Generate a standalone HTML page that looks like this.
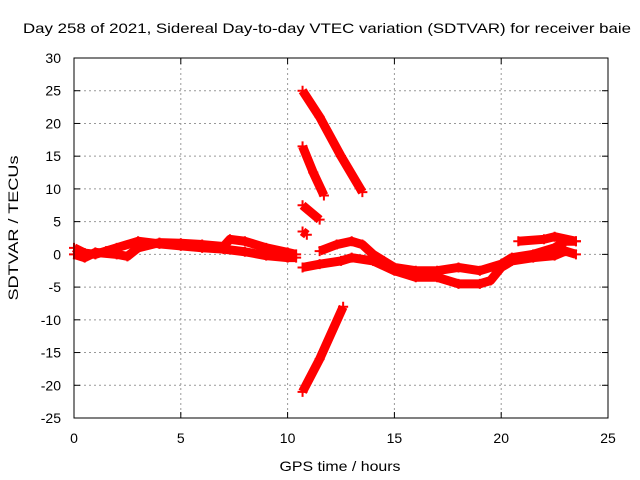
<!DOCTYPE html>
<html><head><meta charset="utf-8"><style>
body{margin:0;background:#fff;}
svg{display:block;font-family:"Liberation Sans",sans-serif;}
</style></head><body>
<svg id="chart" width="640" height="480">
<text x="327" y="33" font-size="14" text-anchor="middle" textLength="608" lengthAdjust="spacingAndGlyphs">Day 258 of 2021, Sidereal Day-to-day VTEC variation (SDTVAR) for receiver baie</text>
<text x="340" y="471" font-size="14" text-anchor="middle" textLength="121" lengthAdjust="spacingAndGlyphs">GPS time / hours</text>
<text transform="translate(18,228) rotate(-90)" font-size="14" text-anchor="middle" textLength="145" lengthAdjust="spacingAndGlyphs">SDTVAR / TECUs</text>
<g id="grid"></g><g id="ticks"></g><g id="data"></g>
<rect x="74" y="58" width="534" height="360" fill="none" stroke="#000" stroke-width="1"/>
</svg>
<script>
const xTicks=[0,5,10,15,20,25];
const yTicks=[30,25,20,15,10,5,0,-5,-10,-15,-20,-25];
const seriesA=[[0,1],[0.5,0.2],[1,0],[1.5,0.5],[2,1],[3,2],[4,1.6],[5,1.3],[6,1],[7,0.8],[8,0.4],[9,-0.2],[10,-0.5],[10.4,-0.5]];
const seriesB=[[0,0],[0.5,-0.5],[1,0.3],[2,0],[2.5,-0.3],[3,1],[4,1.8],[5,1.7],[6,1.5],[7,1.2],[7.3,2.3],[8,2],[9,1],[10,0.3],[10.4,0]];
const seriesC=[[10.7,-2],[11.5,-1.5],[12.5,-1],[13,-0.5],[14,-1],[15,-2.5],[16,-3.5],[17,-3.5],[18,-4.5],[19,-4.5],[19.5,-4],[20,-2],[20.5,-1],[21.5,-0.5],[22.5,-0.2],[23,0.5],[23.5,0]];
const seriesD=[[11.5,0.5],[12.3,1.5],[13,2],[13.5,1.5],[14,0],[14.5,-1],[15,-2],[16,-2.5],[17,-2.5],[18,-2],[19,-2.5],[20,-1.5],[20.5,-0.5],[21.5,0],[22.5,1],[23,2],[23.5,2]];
const seriesE=[[20.8,2],[22,2.3],[22.5,2.7],[23.5,2]];
const seriesF=[[10.7,25],[11.5,21],[12.5,15],[13.5,9.5]];
const seriesG=[[10.7,16.5],[11.2,12.5],[11.7,9]];
const seriesH=[[10.7,7.5],[11.5,5.3]];
const seriesI=[[10.7,3.5],[10.9,3]];
const seriesJ=[[10.7,-21],[11.5,-16],[12.6,-8]];
const allSeries=[seriesA,seriesB,seriesC,seriesD,seriesE,seriesF,seriesG,seriesH,seriesI,seriesJ];
const NS='http://www.w3.org/2000/svg';
const X=v=>74+v*534/25, Y=v=>58+(30-v)*360/55;
const grid=document.getElementById('grid'),ticks=document.getElementById('ticks'),data=document.getElementById('data');
function mk(t,p,a){const e=document.createElementNS(NS,t);for(const k in a)e.setAttribute(k,a[k]);p.appendChild(e);return e;}
xTicks.forEach(t=>{const x=X(t);
 if(t>0&&t<25){const g=mk('line',grid,{x1:x,x2:x,y1:58,y2:418,stroke:'#999','stroke-dasharray':'2,3'});}
 const l=mk('text',ticks,{x:x,y:443,'font-size':14,'text-anchor':'middle'});l.textContent=t;
 
 mk('line',ticks,{x1:x,x2:x,y1:418,y2:412,stroke:'#000'});mk('line',ticks,{x1:x,x2:x,y1:58,y2:64,stroke:'#000'});});
yTicks.forEach(t=>{const y=Y(t);
 if(t<30&&t>-25){const g=mk('line',grid,{x1:74,x2:608,y1:y,y2:y,stroke:'#999','stroke-dasharray':'2,3'});}
 const l=mk('text',ticks,{x:61,y:y+5,'font-size':14,'text-anchor':'end'});l.textContent=t;
 
 mk('line',ticks,{x1:74,x2:80,y1:y,y2:y,stroke:'#000'});mk('line',ticks,{x1:608,x2:602,y1:y,y2:y,stroke:'#000'});});
allSeries.forEach((s,i)=>{
 const p=mk('polyline',data,{points:s.map(d=>X(d[0])+','+Y(d[1])).join(' '),fill:'none',stroke:'#f00','stroke-width':9,'stroke-linejoin':'round'});
 
 
 s.forEach(d=>{const x=X(d[0]),y=Y(d[1]);
  const m=mk('path',data,{d:`M${x-5},${y}h10M${x},${y-5}v10`,stroke:'#f00','stroke-width':2});
  
  });
});
</script>
</body></html>
